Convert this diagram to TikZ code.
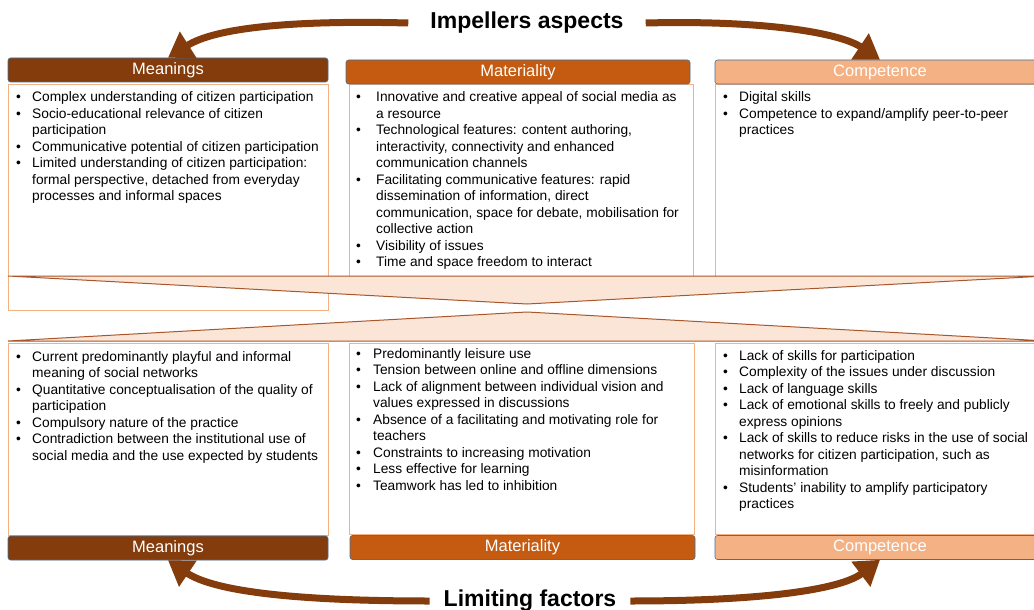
\documentclass[tikz,border=0pt]{standalone}
\usepackage{fontspec}
\setmainfont{Liberation Sans}
\usetikzlibrary{arrows.meta}
\definecolor{mbrown}{HTML}{843C0C}
\definecolor{morange}{HTML}{C55A11}
\definecolor{mpeach}{HTML}{F4B183}
\definecolor{mlight}{HTML}{FBE5D6}
\definecolor{mblue}{HTML}{41719C}
\definecolor{tribord}{HTML}{A9572A}
\newlength\bindent
\newcommand\itm{\par\hangindent=\bindent\hangafter=1\noindent\hbox to\bindent{\textbullet\hfil}}
\newcommand\blist[2]{\vtop{\hsize=360pt\setlength\bindent{#1}\parindent=0pt\rightskip=0pt plus 1fil\fontsize{13.75}{16.5}\selectfont #2\par}}
\begin{document}
\begin{tikzpicture}[x=1pt,y=-1pt,
  hdr/.style={draw=mblue, line width=0.6pt, rounded corners=2.5pt, minimum height=24pt, inner sep=0pt, text=white, font=\fontsize{16.5}{18}\selectfont},
  cbox/.style={draw=mpeach, line width=0.8pt, fill=white, anchor=north west, inner sep=0pt},
  tri/.style={draw=tribord, line width=1pt, fill=mlight, line join=miter},
  ttl/.style={font=\fontsize{23}{26}\selectfont\bfseries, inner ysep=0pt},
  bigarrow/.style={draw=mbrown, line width=7pt, -{Triangle[length=24pt,width=30pt]}},
  txt/.style={anchor=base west, inner sep=0pt}]
\useasboundingbox (0,0) rectangle (1034,610);
\fill[white] (0,0) rectangle (1034,610);
% top content boxes
\node[cbox, minimum width=320pt, minimum height=226pt] (cm1) at (8,84) {};
\node[cbox, minimum width=344pt, minimum height=192pt] (ct1) at (349,84) {};
\node[cbox, minimum width=330pt, minimum height=192pt] (cc1) at (715,84) {};
% top headers
\node[hdr, fill=mbrown, minimum width=320pt] (hm) at (168,70) {Meanings};
\node[hdr, fill=morange, minimum width=344pt] (ht) at (518,72) {Materiality};
\node[hdr, fill=mpeach, minimum width=330pt] (hc) at (880,72) {Competence};
% top texts
\node[txt] (tm1) at (16,102) {\blist{16pt}{%
\itm Complex understanding of citizen participation
\itm Socio-educational relevance of citizen\newline participation
\itm Communicative potential of citizen participation
\itm Limited understanding of citizen participation:\newline formal perspective, detached from everyday\newline processes and informal spaces}};
\node[txt] (tt1) at (356,102) {\blist{20pt}{%
\itm Innovative and creative appeal of social media as\newline a resource
\itm Technological features: content authoring,\newline interactivity, connectivity and enhanced\newline communication channels
\itm Facilitating communicative features: rapid\newline dissemination of information, direct\newline communication, space for debate, mobilisation for\newline collective action
\itm Visibility of issues
\itm Time and space freedom to interact}};
\node[txt] (tc1) at (723,102) {\blist{16pt}{%
\itm Digital skills
\itm Competence to expand/amplify peer-to-peer\newline practices}};
% triangles
\draw[tri] (8,276) -- (1046,276) -- (527,304) -- cycle;
\draw[tri] (8,341) -- (1046,341) -- (527,312) -- cycle;
% bottom content boxes
\node[cbox, minimum width=320pt, minimum height=192pt] (cm2) at (8,343) {};
\node[cbox, minimum width=345pt, minimum height=191pt] (ct2) at (349,343) {};
\node[cbox, minimum width=330pt, minimum height=191pt] (cc2) at (715,343) {};
% bottom headers
\node[hdr, fill=mbrown, minimum width=320pt] (hmb) at (168,548) {Meanings};
\node[hdr, fill=morange, minimum width=345pt] (htb) at (522.5,547.5) {Materiality};
\node[hdr, fill=mpeach, minimum width=330pt] (hcb) at (880,547.5) {Competence};
% bottom texts
\node[txt] (tm2) at (16,361) {\blist{16pt}{%
\itm Current predominantly playful and informal\newline meaning of social networks
\itm Quantitative conceptualisation of the quality of\newline participation
\itm Compulsory nature of the practice
\itm Contradiction between the institutional use of\newline social media and the use expected by students}};
\node[txt] (tt2) at (356,358) {\blist{17pt}{%
\itm Predominantly leisure use
\itm Tension between online and offline dimensions
\itm Lack of alignment between individual vision and\newline values expressed in discussions
\itm Absence of a facilitating and motivating role for\newline teachers
\itm Constraints to increasing motivation
\itm Less effective for learning
\itm Teamwork has led to inhibition}};
\node[txt] (tc2) at (723,360) {\blist{16pt}{%
\itm Lack of skills for participation
\itm Complexity of the issues under discussion
\itm Lack of language skills
\itm Lack of emotional skills to freely and publicly\newline express opinions
\itm Lack of skills to reduce risks in the use of social\newline networks for citizen participation, such as\newline misinformation
\itm Students' inability to amplify participatory\newline practices}};
% titles
\node[ttl, inner xsep=22pt] (imp) at (527,23) {Impellers aspects};
\node[ttl, inner xsep=14pt] (lim) at (530,601) {Limiting factors};
% arrows
\draw[bigarrow] (imp.west) .. controls (290,20) and (215,28) .. (hm.north);
\draw[bigarrow] (imp.east) .. controls (765,20) and (840,33) .. (hc.north);
\draw[bigarrow] (lim.west) .. controls (300,601) and (215,592) .. (hmb.south);
\draw[bigarrow] (lim.east) .. controls (760,601) and (840,590) .. (hcb.south);
\end{tikzpicture}
\end{document}
